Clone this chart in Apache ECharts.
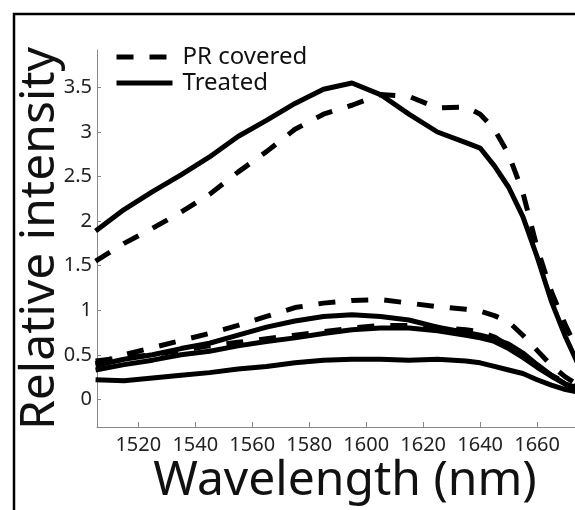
<!DOCTYPE html>
<html>
<head>
<meta charset="utf-8">
<script src="https://cdn.jsdelivr.net/npm/echarts@6/dist/echarts.min.js"></script>
<style>
  html, body { margin: 0; padding: 0; background: #fff; }
  #chart { width: 575px; height: 510px; }
</style>
</head>
<body>
<div id="chart"></div>
<script>
// wavelength samples (nm)
const wavelengths = [1505, 1515, 1525, 1535, 1545, 1555, 1565, 1575, 1585, 1595, 1605,
  1615, 1625, 1635, 1640, 1645, 1650, 1655, 1660, 1665, 1670, 1675];

// PR covered (dashed)
const coveredHigh = [1.55, 1.75, 1.92, 2.10, 2.30, 2.55, 2.78, 3.03, 3.20, 3.30, 3.42,
  3.40, 3.27, 3.28, 3.20, 3.03, 2.75, 2.32, 1.70, 1.21, 0.83, 0.50];
const coveredLowA = [0.40, 0.50, 0.58, 0.66, 0.74, 0.83, 0.93, 1.03, 1.08, 1.11, 1.12,
  1.08, 1.04, 1.01, 0.99, 0.94, 0.87, 0.72, 0.55, 0.38, 0.25, 0.15];
const coveredLowB = [0.43, 0.47, 0.50, 0.55, 0.60, 0.64, 0.68, 0.72, 0.76, 0.80, 0.83,
  0.83, 0.81, 0.78, 0.76, 0.70, 0.60, 0.49, 0.37, 0.27, 0.19, 0.12];

// Treated (solid)
const treatedHigh = [1.89, 2.13, 2.33, 2.52, 2.72, 2.95, 3.13, 3.32, 3.48, 3.55, 3.42,
  3.20, 3.00, 2.88, 2.82, 2.62, 2.38, 2.05, 1.60, 1.10, 0.70, 0.35];
const treatedLowA = [0.38, 0.45, 0.50, 0.57, 0.63, 0.72, 0.81, 0.88, 0.93, 0.95, 0.93,
  0.89, 0.81, 0.75, 0.72, 0.68, 0.62, 0.52, 0.39, 0.27, 0.17, 0.12];
const treatedLowB = [0.33, 0.39, 0.44, 0.50, 0.54, 0.60, 0.65, 0.69, 0.74, 0.78, 0.80,
  0.80, 0.77, 0.72, 0.69, 0.65, 0.57, 0.47, 0.36, 0.26, 0.17, 0.10];
const treatedLowC = [0.22, 0.21, 0.24, 0.27, 0.30, 0.34, 0.37, 0.41, 0.44, 0.45, 0.45,
  0.44, 0.45, 0.43, 0.41, 0.37, 0.33, 0.29, 0.22, 0.16, 0.11, 0.08];

const xTicks = [1520, 1540, 1560, 1580, 1600, 1620, 1640, 1660];
const yTicks = [0, 0.5, 1, 1.5, 2, 2.5, 3, 3.5];

const font = 'Noto Sans';

function pairs(values) {
  return wavelengths.map((w, i) => [w, values[i]]);
}

function dashed(values) {
  return {
    name: 'PR covered', type: 'line', data: pairs(values), symbol: 'none',
    lineStyle: { color: '#000', width: 5, type: [17, 16] }, itemStyle: { color: '#000' }
  };
}

function solid(values) {
  return {
    name: 'Treated', type: 'line', data: pairs(values), symbol: 'none',
    lineStyle: { color: '#000', width: 5, type: 'solid' }, itemStyle: { color: '#000' }
  };
}

const chart = echarts.init(document.getElementById('chart'));
chart.setOption({
  animation: false,
  backgroundColor: '#fff',
  graphic: [{
    type: 'rect', z: 100,
    shape: { x: 14, y: 14, width: 700, height: 700 },
    style: { fill: 'none', stroke: '#000', lineWidth: 2.5 }
  }],
  legend: {
    data: ['PR covered', 'Treated'],
    orient: 'vertical',
    left: 114, top: 45, padding: 0,
    itemWidth: 56, itemHeight: 14, itemGap: 2,
    itemStyle: { opacity: 0 },
    lineStyle: { width: 5 },
    textStyle: { fontFamily: font, fontSize: 24, color: '#111', padding: [0, 0, 0, 5] }
  },
  grid: { left: 97, right: 0, top: 50, bottom: 80, containLabel: false },
  xAxis: {
    type: 'value', min: 1505.5, max: 1673.3,
    name: 'Wavelength (nm)', nameLocation: 'middle', nameGap: 30, nameMoveOverlap: false,
    nameTextStyle: { fontFamily: font, fontSize: 48, color: '#111', padding: [0, 0, 0, 18] },
    axisLine: { onZero: false, lineStyle: { color: '#888', width: 1 } },
    axisTick: { inside: true, length: 5, customValues: xTicks, lineStyle: { color: '#888' } },
    axisLabel: { customValues: xTicks, formatter: v => String(v), margin: 8,
      fontFamily: font, fontSize: 20, color: '#222' },
    splitLine: { show: false }
  },
  yAxis: {
    type: 'value', min: -0.31, max: 3.92,
    name: 'Relative intensity', nameLocation: 'middle', nameGap: 33, nameMoveOverlap: false,
    nameTextStyle: { fontFamily: font, fontSize: 48, color: '#111' },
    axisLine: { onZero: false, lineStyle: { color: '#888', width: 1 } },
    axisTick: { inside: true, length: 4, customValues: yTicks, lineStyle: { color: '#888' } },
    axisLabel: { customValues: yTicks, formatter: v => String(v), margin: 5,
      fontFamily: font, fontSize: 20, color: '#222' },
    splitLine: { show: false }
  },
  series: [
    dashed(coveredHigh), dashed(coveredLowA), dashed(coveredLowB),
    solid(treatedHigh), solid(treatedLowA), solid(treatedLowB), solid(treatedLowC)
  ]
});
</script>
</body>
</html>
